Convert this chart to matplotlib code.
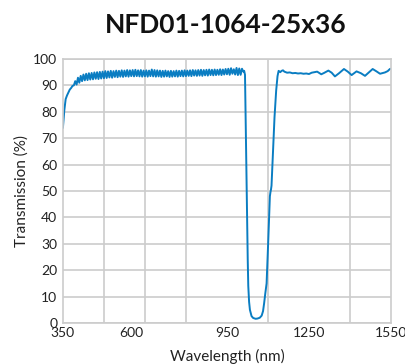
import numpy as np
import matplotlib
matplotlib.use("Agg")
import matplotlib.pyplot as plt

# Broad-band region before the notch, sampled every 5 nm (350 .. 1010)
wl_left = np.arange(350, 1011, 5)
t_left = [
    74.0, 80.5, 84.8, 86.2, 87.3, 88.4, 89.0, 89.8, 90.0, 91.6,
    90.3, 92.9, 91.0, 93.6, 91.6, 94.1, 91.9, 94.4, 92.0, 94.6,
    92.2, 94.7, 92.3, 94.9, 92.5, 95.0, 92.4, 95.1, 92.6, 95.2,
    92.7, 95.4, 92.8, 95.3, 93.0, 95.5, 92.9, 95.4, 93.2, 95.6,
    93.1, 95.5, 93.3, 95.7, 93.2, 95.6, 93.4, 95.8, 93.3, 95.7,
    93.5, 95.8, 93.4, 95.9, 93.5, 95.7, 93.4, 95.8, 93.3, 95.6,
    93.4, 95.7, 93.3, 95.6, 93.5, 96.0, 93.4, 95.8, 93.3, 95.7,
    93.4, 95.6, 93.2, 95.5, 93.3, 95.6, 93.4, 95.4, 93.2, 95.5,
    93.3, 95.4, 93.4, 95.6, 93.3, 95.5, 93.5, 95.6, 93.4, 95.7,
    93.5, 95.6, 93.6, 95.7, 93.5, 95.8, 93.7, 95.7, 93.6, 95.8,
    93.7, 95.9, 93.6, 95.8, 93.8, 95.9, 93.7, 96.0, 93.9, 95.9,
    93.8, 96.0, 93.9, 95.9, 94.0, 96.1, 93.9, 96.0, 94.1, 96.2,
    94.2, 96.3, 94.0, 96.5, 94.4, 96.1, 94.1, 96.6, 93.9, 96.4,
    94.0, 96.3, 95.2,
]

# Notch around 1064 nm
wl_notch = [1013, 1016, 1018, 1020, 1022, 1024, 1026, 1028, 1031, 1034,
            1040, 1046, 1055, 1062, 1070, 1077, 1082, 1086, 1090, 1095,
            1101, 1105, 1107, 1109, 1111, 1113, 1118, 1124, 1130, 1135, 1139]
t_notch = [95.5, 94.0, 80.0, 65.0, 50.0, 37.0, 24.0, 14.0, 8.0, 5.0,
           2.6, 1.9, 1.6, 1.7, 2.0, 2.8, 4.5, 7.5, 11.0, 15.0,
           31.0, 43.0, 48.0, 49.5, 50.5, 52.0, 64.0, 78.0, 88.0, 93.5, 95.5]

# Region after the notch
wl_right = [1145, 1150, 1155, 1160, 1170, 1180, 1190, 1200, 1210, 1220,
            1230, 1240, 1250, 1260, 1270, 1280, 1295, 1305, 1321, 1333,
            1345, 1360, 1378, 1392, 1406, 1424, 1440, 1455, 1468, 1483,
            1497, 1510, 1520, 1528, 1538, 1546, 1550]
t_right = [95.0, 95.5, 95.7, 95.2, 94.8, 94.9, 94.6, 94.7, 94.5, 94.6,
           94.4, 94.5, 94.3, 94.8, 95.0, 95.2, 94.2, 94.7, 95.6, 94.8,
           93.4, 94.6, 96.2, 95.2, 93.9, 95.3, 94.6, 93.6, 94.8, 96.2,
           95.3, 94.4, 94.7, 94.9, 95.4, 96.2, 96.3]

wavelength = np.concatenate([wl_left, wl_notch, wl_right])
transmission = np.concatenate([t_left, t_notch, t_right])

x_labels = [350, 600, 950, 1250, 1550]
x_grid = np.arange(350, 1551, 150)
y_ticks = np.arange(0, 101, 10)

plt.rcParams['font.family'] = ['Lato', 'DejaVu Sans']

fig = plt.figure(figsize=(4.06, 3.64), dpi=100)
ax = fig.add_axes([0.155, 0.1126, 0.808, 0.7254])

ax.plot(wavelength, transmission, color='#0a7dc2', linewidth=1.4)

ax.set_xlim(350, 1550)
ax.set_ylim(0, 100)
ax.set_xticks(x_labels)
ax.set_xticks(x_grid, minor=True)
ax.set_yticks(y_ticks)
ax.tick_params(axis='both', which='both', length=0, labelsize=10,
               colors='#222222')
ax.tick_params(axis='x', pad=3)
ax.tick_params(axis='y', pad=4)

ax.grid(False)
ax.xaxis.grid(True, which='minor', color='#cccccc', linewidth=1.2)
ax.yaxis.grid(True, which='major', color='#cccccc', linewidth=1.2)
ax.set_axisbelow(True)
for s in ax.spines.values():
    s.set_color('#cccccc')
    s.set_linewidth(1.2)

ax.set_xlabel('Wavelength (nm)', fontsize=11, color='#222222', labelpad=7)
ax.set_ylabel('Transmission (%)', fontsize=11, color='#222222', labelpad=3)

fig.text(0.555, 0.931, 'NFD01-1064-25x36', ha='center', va='center',
         fontsize=19, fontweight='bold', color='#111111')

fig.savefig('out.png', dpi=100)
